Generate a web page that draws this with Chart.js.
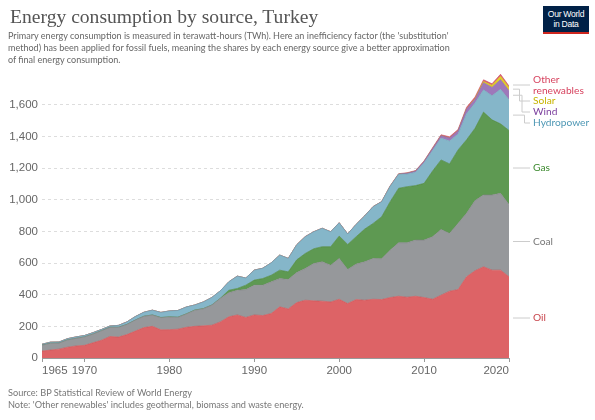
<!DOCTYPE html>
<html>
<head>
<meta charset="utf-8">
<script src="https://cdn.jsdelivr.net/npm/chart.js@4/dist/chart.umd.min.js"></script>
<style>
  body { margin: 0; background: #fff; }
  #wrap { position: relative; width: 595px; height: 420px; overflow: hidden; }
  #chart { position: absolute; left: 0; top: 0; }
  .title { position: absolute; left: 10px; top: 6px; font-family: "Liberation Serif", serif; font-size: 19.6px; color: #555; white-space: nowrap; }
  .sub { position: absolute; left: 8px; top: 30px; width: 540px; font-family: Lato, "Liberation Sans", sans-serif; font-size: 9.05px; line-height: 12.2px; color: #666; white-space: nowrap; }
  .foot { position: absolute; left: 8px; top: 387px; font-family: Lato, "Liberation Sans", sans-serif; font-size: 9.2px; line-height: 12px; color: #777; }
  .logo { position: absolute; left: 543px; top: 6px; width: 46px; height: 28px; background: #002147; border-bottom: 2.5px solid #ce261e; box-sizing: border-box;
          color: #fff; font-family: "Liberation Sans", Arial, sans-serif; font-size: 8.6px; line-height: 10px; text-align: center; padding-top: 3px; letter-spacing: -0.3px; }
</style>
</head>
<body>
<div id="wrap">
  <canvas id="chart" width="595" height="420"></canvas>
  <div class="title">Energy consumption by source, Turkey</div>
  <div class="sub">Primary energy consumption is measured in terawatt-hours (TWh). Here an inefficiency factor (the 'substitution'<br>method) has been applied for fossil fuels, meaning the shares by each energy source give a better approximation<br>of final energy consumption.</div>
  <div class="logo">Our World<br>in Data</div>
  <div class="foot">Source: BP Statistical Review of World Energy<br>Note: 'Other renewables' includes geothermal, biomass and waste energy.</div>
</div>
<script>
// values in TWh
const years = [1965,1966,1967,1968,1969,1970,1971,1972,1973,1974,1975,1976,1977,1978,1979,
  1980,1981,1982,1983,1984,1985,1986,1987,1988,1989,1990,1991,1992,1993,1994,
  1995,1996,1997,1998,1999,2000,2001,2002,2003,2004,2005,2006,2007,2008,2009,
  2010,2011,2012,2013,2014,2015,2016,2017,2018,2019,2020]

const oil = [44,50,56,68,76,80,96,112,136,132,148,170,192,200,178,
  179,182,194,200,203,207,228,260,272,256,272,268,281,323,310,
  350,365,361,359,354,371,344,369,365,371,369,382,390,384,390,
  382,371,397,422,432,513,551,576,555,555,513]
const coal = [37,43,38,46,48,53,55,60,58,62,64,70,71,71,77,
  80,75,84,102,108,127,148,152,156,176,188,192,200,179,186,
  190,200,236,249,232,258,215,224,243,258,258,299,338,344,355,
  363,395,415,365,418,401,443,454,475,485,457]
const gas = [0,0,0,0,0,0,0,0,0,0,0,0,1,1,1,
  1,1,1,1,1,1,1,16,11,28,32,42,42,53,48,
  80,95,93,95,117,141,158,173,206,221,265,306,344,354,344,
  358,415,439,439,464,464,457,523,474,439,467]
const hydro = [6,7,7,8,9,9,9,8,8,12,16,22,25,30,32,
  37,42,43,32,42,47,47,53,78,45,63,65,78,95,85,
  95,106,107,116,94,84,66,78,83,106,95,97,88,80,84,
  130,130,138,145,100,165,160,141,152,219,194]
const wind = [0,0,0,0,0,0,0,0,0,0,0,0,0,0,0,
  0,0,0,0,0,0,0,0,0,0,0,0,0,0,0,
  0,0,0,0,0,0,0,0,0,0,0,1,2,5,8,
  9,12,15,19,21,29,24,45,53,60,57]
const solar = [0,0,0,0,0,0,0,0,0,0,0,0,0,0,0,
  0,0,0,0,0,0,0,0,0,0,0,0,0,0,0,
  0,0,0,0,0,0,0,0,0,0,0,0,0,0,0,
  0,0,0,0,0,1,3,8,13,22,20]
const otherRen = [0,0,0,0,0,0,0,0,0,0,0,0,0,0,0,
  0,0,0,0,0,0,0,0,0,0,0,0,0,0,0,
  1,1,1,1,1,1,1,1,1,1,1,2,2,3,3,
  3,5,6,7,8,10,10,10,10,12,10]

const xTicks = [1965,1970,1980,1990,2000,2010,2020]
const yTicks = [0,200,400,600,800,1000,1200,1400,1600]

const series = [
  { name: 'Oil', data: oil, fill: 'rgb(221,99,102)', line: 'rgb(200,80,84)', text: '#c8454c', label: ['Oil'], ly: 318 },
  { name: 'Coal', data: coal, fill: 'rgb(150,152,155)', line: 'rgb(125,127,130)', text: '#777', label: ['Coal'], ly: 241.5 },
  { name: 'Gas', data: gas, fill: 'rgb(94,153,82)', line: 'rgb(70,130,60)', text: '#3d8a2f', label: ['Gas'], ly: 168 },
  { name: 'Hydropower', data: hydro, fill: 'rgb(133,182,201)', line: 'rgb(110,160,182)', text: '#4f98b5', label: ['Hydropower'], ly: 123 },
  { name: 'Wind', data: wind, fill: 'rgb(158,120,186)', line: 'rgb(135,95,165)', text: '#7b3f9e', label: ['Wind'], ly: 112 },
  { name: 'Solar', data: solar, fill: 'rgb(226,205,40)', line: 'rgb(205,185,20)', text: '#c8b400', label: ['Solar'], ly: 101 },
  { name: 'Other renewables', data: otherRen, fill: 'rgb(224,96,118)', line: 'rgb(200,70,95)', text: '#d7435f', label: ['Other', 'renewables'], ly: 80 }
]

const datasets = series.map((s, i) => ({
  label: s.name,
  data: years.map((y, j) => ({ x: y, y: s.data[j] })),
  backgroundColor: s.fill,
  borderColor: s.line,
  borderWidth: 0.6,
  pointRadius: 0,
  tension: 0,
  fill: i === 0 ? 'origin' : '-1'
}))

// labels on the right with leader lines
const rightLabels = {
  id: 'rightLabels',
  afterDraw(chart) {
    const ctx = chart.ctx
    const ys = chart.scales.y
    const right = chart.chartArea.right
    const last = years.length - 1
    const labelX = 533
    let base = 0
    ctx.save()
    ctx.font = '10.2px Lato, "Liberation Sans", sans-serif'
    ctx.textBaseline = 'middle'
    series.forEach((s, i) => {
      const v = s.data[last]
      const mid = ys.getPixelForValue(base + v / 2)
      base += v
      const lineY = s.label.length > 1 ? s.ly + 5 : s.ly
      ctx.strokeStyle = '#ccc'
      ctx.lineWidth = 1
      ctx.beginPath()
      if (Math.abs(mid - lineY) < 2) {
        ctx.moveTo(right + 4, lineY)
        ctx.lineTo(labelX - 3, lineY)
      } else {
        const bend = right + 8 + (6 - i) * 2.5
        ctx.moveTo(right + 4, mid)
        ctx.lineTo(bend, mid)
        ctx.lineTo(bend, lineY)
        ctx.lineTo(labelX - 3, lineY)
      }
      ctx.stroke()
      ctx.fillStyle = s.text
      s.label.forEach((t, k) => ctx.fillText(t, labelX, s.ly + k * 11))
    })
    ctx.restore()
  }
}

new Chart(document.getElementById('chart'), {
  type: 'line',
  data: { datasets: datasets },
  options: {
    responsive: false,
    animation: false,
    devicePixelRatio: 1,
    layout: { padding: { left: 0, right: 86, top: 73, bottom: 40 } },
    plugins: { legend: { display: false }, tooltip: { enabled: false } },
    elements: { line: { borderJoinStyle: 'round' } },
    scales: {
      x: {
        type: 'linear',
        min: 1965,
        max: 2020,
        afterBuildTicks: (scale) => { scale.ticks = xTicks.map(v => ({ value: v })) },
        afterFit: (scale) => { scale.height = 22 },
        ticks: {
          color: '#666',
          font: { family: '"Liberation Sans", Arial, sans-serif', size: 11.5 },
          padding: 2,
          align: 'inner',
          maxRotation: 0,
          autoSkip: false,
          callback: (v) => String(v)
        },
        grid: { display: true, drawOnChartArea: false, drawTicks: true, tickLength: 4, color: '#999' },
        border: { display: true, color: '#999' }
      },
      y: {
        stacked: true,
        min: 0,
        max: 1800,
        afterBuildTicks: (scale) => { scale.ticks = yTicks.map(v => ({ value: v })) },
        afterFit: (scale) => { scale.width = 42 },
        ticks: {
          color: '#666',
          font: { family: '"Liberation Sans", Arial, sans-serif', size: 11.5 },
          padding: 4,
          callback: (v) => v.toLocaleString('en-US')
        },
        grid: { color: '#ddd', drawTicks: false, lineWidth: 1 },
        border: { display: false, dash: [3, 3] }
      }
    }
  },
  plugins: [rightLabels]
})
</script>
</body>
</html>
